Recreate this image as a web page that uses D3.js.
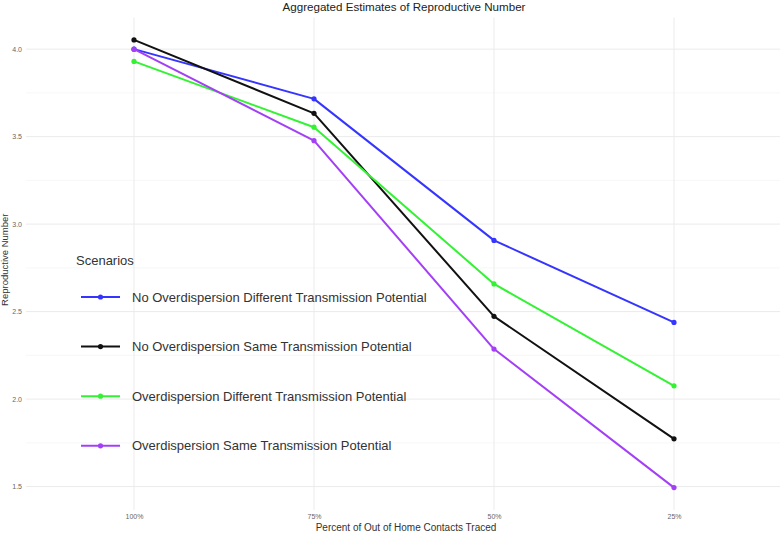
<!DOCTYPE html>
<html>
<head>
<meta charset="utf-8">
<script src="https://cdn.jsdelivr.net/npm/d3@7"></script>
<style>
  body { margin: 0; background: #fff; }
  svg { display: block; font-family: "Liberation Sans", Arial, sans-serif; }
</style>
</head>
<body>
<div id="chart"></div>
<script>
// ---- data ----
const levels = ["100%", "75%", "50%", "25%"];
const scenarioNames = [
  "No Overdispersion Different Transmission Potential",
  "No Overdispersion Same Transmission Potential",
  "Overdispersion Different Transmission Potential",
  "Overdispersion Same Transmission Potential"
];
const noOverDiff = [4.00, 3.716, 2.907, 2.438];
const noOverSame = [4.053, 3.633, 2.473, 1.773];
const overDiff = [3.93, 3.554, 2.658, 2.076];
const overSame = [4.00, 3.477, 2.286, 1.494];
const yTicks = [1.5, 2.0, 2.5, 3.0, 3.5, 4.0];
const lineColors = ["#3535ff", "#111111", "#33f233", "#a340f5"];

const seriesValues = [noOverDiff, noOverSame, overDiff, overSame];
const series = scenarioNames.map((name, i) => ({
  name,
  color: lineColors[i],
  values: levels.map((lv, j) => ({ level: lv, value: seriesValues[i][j] }))
}));

// ---- layout ----
const W = 780, H = 533;
const panel = { left: 26, right: 782, top: 17.5, bottom: 510 };

const svg = d3.select("#chart").append("svg")
  .attr("width", W)
  .attr("height", H);

const x = d3.scalePoint()
  .domain(levels)
  .range([panel.left, panel.right])
  .padding(0.6);

const allVals = seriesValues.flat();
const [lo, hi] = d3.extent(allVals);
const pad = (hi - lo) * 0.05;
const y = d3.scaleLinear()
  .domain([lo - pad, hi + pad])
  .range([panel.bottom, panel.top]);

// minor gridlines
const minorTicks = d3.range(yTicks[0] - 0.25, yTicks[yTicks.length - 1] + 0.5, 0.5)
  .filter(v => v > y.domain()[0] && v < y.domain()[1]);
svg.append("g")
  .selectAll("line")
  .data(minorTicks)
  .join("line")
  .attr("x1", panel.left).attr("x2", panel.right)
  .attr("y1", d => y(d)).attr("y2", d => y(d))
  .attr("stroke", "#f2f2f2")
  .attr("stroke-width", 0.6);

// major gridlines
svg.append("g")
  .selectAll("line")
  .data(yTicks)
  .join("line")
  .attr("x1", panel.left).attr("x2", panel.right)
  .attr("y1", d => y(d)).attr("y2", d => y(d))
  .attr("stroke", "#ebebeb")
  .attr("stroke-width", 1);

svg.append("g")
  .selectAll("line")
  .data(levels)
  .join("line")
  .attr("x1", d => x(d)).attr("x2", d => x(d))
  .attr("y1", panel.top).attr("y2", panel.bottom)
  .attr("stroke", "#ebebeb")
  .attr("stroke-width", 1);

// axes (labels only, like theme_minimal)
const yAxis = svg.append("g")
  .attr("transform", `translate(${panel.left - 4},0)`)
  .call(d3.axisLeft(y).tickValues(yTicks).tickFormat(d3.format(".1f")).tickSize(0).tickPadding(0));
yAxis.select(".domain").remove();
yAxis.selectAll("text")
  .attr("fill", "#666")
  .attr("font-size", 7)
  .attr("font-family", "Liberation Sans, Arial, sans-serif");

const xAxis = svg.append("g")
  .attr("transform", `translate(0,${panel.bottom + 4})`)
  .call(d3.axisBottom(x).tickSize(0).tickPadding(0));
xAxis.select(".domain").remove();
xAxis.selectAll("text")
  .attr("fill", "#666")
  .attr("font-size", 7)
  .attr("font-family", "Liberation Sans, Arial, sans-serif");

// lines + points
const line = d3.line()
  .x(d => x(d.level))
  .y(d => y(d.value));

const g = svg.append("g");
series.forEach(s => {
  g.append("path")
    .datum(s.values)
    .attr("fill", "none")
    .attr("stroke", s.color)
    .attr("stroke-width", 2)
    .attr("stroke-linejoin", "round")
    .attr("d", line);

  g.selectAll(null)
    .data(s.values)
    .join("circle")
    .attr("cx", d => x(d.level))
    .attr("cy", d => y(d.value))
    .attr("r", 2.6)
    .attr("fill", s.color);
});

// titles
svg.append("text")
  .attr("x", (panel.left + panel.right) / 2)
  .attr("y", 11)
  .attr("text-anchor", "middle")
  .attr("font-size", 11.6)
  .attr("fill", "#222")
  .text("Aggregated Estimates of Reproductive Number");

svg.append("text")
  .attr("x", (panel.left + panel.right) / 2 + 2)
  .attr("y", 531)
  .attr("text-anchor", "middle")
  .attr("font-size", 10)
  .attr("fill", "#333")
  .text("Percent of Out of Home Contacts Traced");

svg.append("text")
  .attr("transform", `translate(8,${(panel.top + panel.bottom) / 2 - 4}) rotate(-90)`)
  .attr("text-anchor", "middle")
  .attr("font-size", 9.5)
  .attr("fill", "#333")
  .text("Reproductive Number");

// legend
const legend = svg.append("g").attr("transform", "translate(76,0)");
legend.append("text")
  .attr("x", 0)
  .attr("y", 265)
  .attr("font-size", 13)
  .attr("fill", "#333")
  .text("Scenarios");

const rows = legend.selectAll("g.row")
  .data(series)
  .join("g")
  .attr("class", "row")
  .attr("transform", (d, i) => `translate(0,${297 + i * 49.6})`);

rows.append("line")
  .attr("x1", 5).attr("x2", 44)
  .attr("y1", 0).attr("y2", 0)
  .attr("stroke", d => d.color)
  .attr("stroke-width", 2);

rows.append("circle")
  .attr("cx", 24.5).attr("cy", 0)
  .attr("r", 2.6)
  .attr("fill", d => d.color);

rows.append("text")
  .attr("x", 56)
  .attr("y", 0)
  .attr("dy", "0.35em")
  .attr("font-size", 13)
  .attr("fill", "#333")
  .text(d => d.name);
</script>
</body>
</html>
